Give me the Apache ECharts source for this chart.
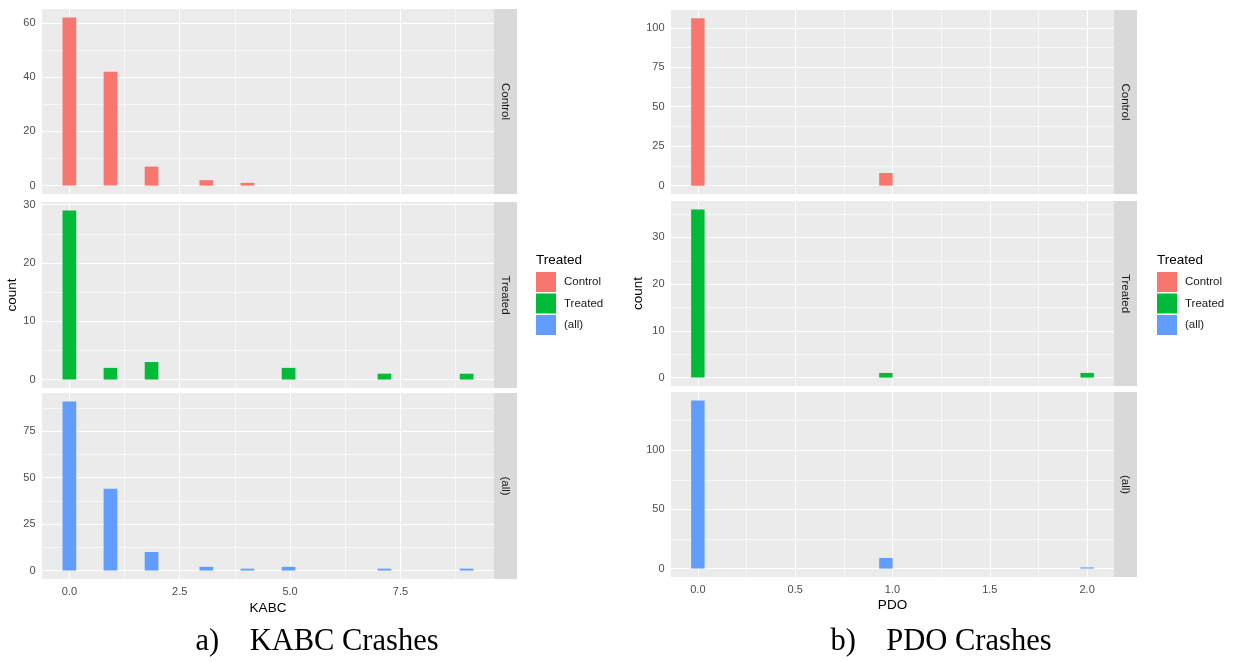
<!DOCTYPE html>
<html>
<head>
<meta charset="utf-8">
<script src="https://cdn.jsdelivr.net/npm/echarts@6.0.0/dist/echarts.min.js"></script>
<style>
  html, body { margin: 0; padding: 0; background: #fff; }
  #chart { width: 1233px; height: 662px; }
</style>
</head>
<body>
<div id="chart"></div>
<script>
// groups (facet rows / fill)
const groups = ["Control", "Treated", "(all)"];
const groupColors = ["#F8766D", "#00BA38", "#619CFF"];

// KABC histogram: bin centres and counts per facet
const kabcBins = [0, 0.931, 1.862, 3.103, 4.034, 4.966, 7.138, 9.0];
const kabcControl = [62, 42, 7, 2, 1, 0, 0, 0];
const kabcTreated = [29, 2, 3, 0, 0, 2, 1, 1];
const kabcAll = [91, 44, 10, 2, 1, 2, 1, 1];
const kabcBinWidth = 0.31;

// PDO histogram
const pdoBins = [0, 0.966, 2.0];
const pdoControl = [106, 8, 0];
const pdoTreated = [36, 1, 1];
const pdoAll = [142, 9, 1];
const pdoBinWidth = 0.069;

// axis ticks
const kabcXTicks = [0, 2.5, 5, 7.5];
const kabcXMinor = [1.25, 3.75, 6.25, 8.75];
const kabcYTicks = [[0, 20, 40, 60], [0, 10, 20, 30], [0, 25, 50, 75]];
const kabcYMinor = [[10, 30, 50], [5, 15, 25], [12.5, 37.5, 62.5, 87.5]];
const pdoXTicks = [0, 0.5, 1, 1.5, 2];
const pdoXMinor = [0.25, 0.75, 1.25, 1.75];
const pdoYTicks = [[0, 25, 50, 75, 100], [0, 10, 20, 30], [0, 50, 100]];
const pdoYMinor = [[12.5, 37.5, 62.5, 87.5], [5, 15, 25, 35], [25, 75, 125]];

const FONT = "Liberation Sans, Arial, sans-serif";

const charts = [
  {
    bins: kabcBins, counts: [kabcControl, kabcTreated, kabcAll], bw: kabcBinWidth,
    xRange: [-0.62, 9.62], xTicks: kabcXTicks, xMinor: kabcXMinor,
    yRanges: [[-3.1, 65.1], [-1.45, 30.45], [-4.55, 95.55]],
    yTicks: kabcYTicks, yMinor: kabcYMinor, xName: "KABC",
    left: 42, right: 494, tops: [9, 202, 393], heights: [185, 186, 186],
    countGap: 20, xNameGap: 22, legendX: 536, caption: "a)    KABC Crashes", captionX: 317
  },
  {
    bins: pdoBins, counts: [pdoControl, pdoTreated, pdoAll], bw: pdoBinWidth,
    xRange: [-0.138, 2.138], xTicks: pdoXTicks, xMinor: pdoXMinor,
    yRanges: [[-5.3, 111.3], [-1.8, 37.8], [-7.1, 149.1]],
    yTicks: pdoYTicks, yMinor: pdoYMinor, xName: "PDO",
    left: 671, right: 1114, tops: [10, 201, 392], heights: [184, 185, 185],
    countGap: 26, xNameGap: 21, legendX: 1157, caption: "b)    PDO Crashes", captionX: 941
  }
];

const grid = [], xAxis = [], yAxis = [], series = [], graphic = [], legend = [];
const STRIP_W = 23;

charts.forEach((c) => {
  for (let r = 0; r < 3; r++) {
    const idx = grid.length;
    const bottomRow = r === 2;
    grid.push({
      left: c.left, top: c.tops[r], width: c.right - c.left, height: c.heights[r],
      show: true, backgroundColor: "#EBEBEB", borderWidth: 0
    });
    xAxis.push({
      type: "value", gridIndex: idx, min: c.xRange[0], max: c.xRange[1],
      axisLine: { show: false },
      splitLine: { show: false },
      axisTick: { show: bottomRow, customValues: c.xTicks, length: 3.5, lineStyle: { color: "#333333" } },
      axisLabel: {
        show: bottomRow, customValues: c.xTicks, margin: 7, fontSize: 11, color: "#4D4D4D", fontFamily: FONT,
        formatter: (v) => v.toFixed(1)
      },
      name: bottomRow ? c.xName : "", nameLocation: "middle", nameGap: c.xNameGap,
      nameTextStyle: { fontSize: 13.5, color: "#000", fontFamily: FONT }
    });
    yAxis.push({
      type: "value", gridIndex: idx, min: c.yRanges[r][0], max: c.yRanges[r][1],
      axisLine: { show: false },
      splitLine: { show: false },
      axisTick: { show: true, customValues: c.yTicks[r], length: 3.5, lineStyle: { color: "#333333" } },
      axisLabel: { customValues: c.yTicks[r], margin: 6.5, fontSize: 11, color: "#4D4D4D", fontFamily: FONT },
      name: r === 1 ? "count" : "", nameLocation: "middle", nameRotate: 90, nameGap: c.countGap,
      nameTextStyle: { fontSize: 13.5, color: "#000", fontFamily: FONT }
    });

    const lines = [];
    c.xTicks.forEach((v) => lines.push({ xAxis: v, lineStyle: { width: 1.1 } }));
    c.xMinor.forEach((v) => lines.push({ xAxis: v, lineStyle: { width: 0.6 } }));
    c.yTicks[r].forEach((v) => lines.push({ yAxis: v, lineStyle: { width: 1.1 } }));
    c.yMinor[r].forEach((v) => lines.push({ yAxis: v, lineStyle: { width: 0.6 } }));

    const color = groupColors[r];
    const bw = c.bw;
    series.push({
      name: groups[r],
      type: "custom",
      xAxisIndex: idx, yAxisIndex: idx,
      z: 2,
      itemStyle: { color: color },
      data: c.bins.map((b, i) => [b, c.counts[r][i]]),
      renderItem: function (params, api) {
        const x = api.value(0), n = api.value(1);
        if (!n) return null;
        const p0 = api.coord([x - bw / 2, n]);
        const p1 = api.coord([x + bw / 2, 0]);
        return {
          type: "rect",
          shape: { x: p0[0], y: p0[1], width: p1[0] - p0[0], height: p1[1] - p0[1] },
          style: { fill: color }
        };
      },
      markLine: {
        silent: true, symbol: "none", z: 1, animation: false,
        label: { show: false },
        lineStyle: { color: "#FFFFFF", type: "solid", opacity: 1 },
        emphasis: { disabled: true },
        data: lines
      }
    });

    // facet strip
    graphic.push({
      type: "rect",
      shape: { x: c.right, y: c.tops[r], width: STRIP_W, height: c.heights[r] },
      style: { fill: "#D9D9D9" }
    });
    graphic.push({
      type: "text",
      x: c.right + STRIP_W / 2, y: c.tops[r] + c.heights[r] / 2,
      rotation: -Math.PI / 2,
      style: { text: groups[r], fontSize: 11.5, fill: "#1A1A1A", fontFamily: FONT, align: "center", verticalAlign: "middle" }
    });
  }

  // legend
  graphic.push({
    type: "text", x: c.legendX, y: 260,
    style: { text: "Treated", fontSize: 13.5, fill: "#000", fontFamily: FONT, align: "left", verticalAlign: "middle" }
  });
  legend.push({
    data: groups, orient: "vertical", left: c.legendX, top: 272, padding: 0,
    icon: "rect", itemWidth: 20, itemHeight: 20, itemGap: 1.5,
    selectedMode: false,
    textStyle: { fontSize: 11.5, color: "#1A1A1A", fontFamily: FONT, padding: [0, 0, 0, 3] }
  });

  // caption
  graphic.push({
    type: "text", x: c.captionX, y: 642,
    style: { text: c.caption, fontSize: 30.5, fill: "#000", fontFamily: "Liberation Serif, Times New Roman, serif", align: "center", verticalAlign: "middle" }
  });
});

const chart = echarts.init(document.getElementById("chart"), null, { renderer: "canvas" });
chart.setOption({
  animation: false,
  backgroundColor: "#FFFFFF",
  grid, xAxis, yAxis, series, legend, graphic
});
window.addEventListener("resize", () => chart.resize());
</script>
</body>
</html>
